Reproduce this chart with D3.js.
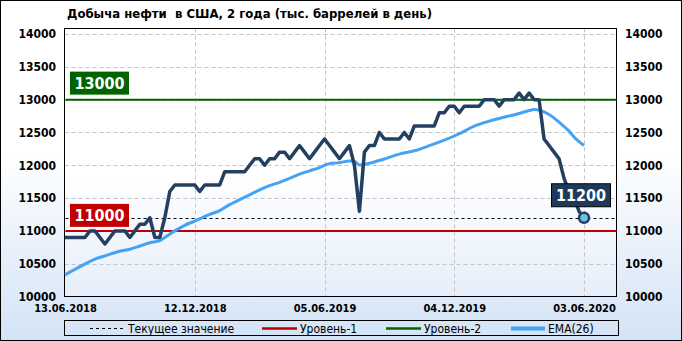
<!DOCTYPE html>
<html>
<head>
<meta charset="utf-8">
<script src="https://cdn.jsdelivr.net/npm/d3@7"></script>
<style>
  body { margin: 0; }
  svg { display: block; }
</style>
</head>
<body>
<svg id="chart"></svg>
<script>
// Weekly values (thousand barrels per day)
var production = [
  10900, 10900, 10900, 10900, 10900, 11000, 11000, 10900, 10800, 10900,
  11000, 11000, 11000, 10900, 11000, 11100, 11100, 11200, 10900, 10900,
  11200, 11600, 11700, 11700, 11700, 11700, 11700, 11600, 11700, 11700,
  11700, 11700, 11900, 11900, 11900, 11900, 11900, 12000, 12100, 12100,
  12000, 12100, 12100, 12200, 12200, 12100, 12200, 12300, 12200, 12100,
  12200, 12300, 12400, 12300, 12200, 12100, 12200, 12300, 12000, 11300,
  12200, 12300, 12300, 12500, 12400, 12400, 12400, 12400, 12500, 12400,
  12600, 12600, 12600, 12600, 12600, 12800, 12800, 12900, 12900, 12800,
  12900, 12900, 12900, 12900, 13000, 13000, 13000, 12900, 13000, 13000,
  13000, 13100, 13000, 13100, 13000, 13000, 12400, 12300, 12200, 12100,
  11800, 11600, 11500, 11300, 11200
];

// EMA(26) line at these week indexes
var emaIndex = [0, 3, 6, 8, 11, 13, 15, 17, 19, 20, 22, 24, 26, 29, 31, 33, 35, 37, 39, 41, 43, 45, 47, 49, 51, 53, 55, 57, 58, 59, 61, 64, 67, 70, 73, 76, 79, 82, 85, 88, 91, 93, 94, 95, 97, 99, 101, 102, 104];
var emaValue = [10330, 10455, 10570, 10620, 10690, 10720, 10770, 10820, 10850, 10900, 11000, 11085, 11150, 11250, 11310, 11400, 11475, 11550, 11625, 11690, 11740, 11800, 11865, 11915, 11965, 12025, 12040, 12066, 12060, 12005, 12030, 12096, 12170, 12220, 12298, 12384, 12480, 12596, 12672, 12732, 12788, 12833, 12848, 12840, 12773, 12657, 12520, 12430, 12300];

var xTickIndex = [0, 26, 52, 78, 104];
var xTickLabels = ['13.06.2018', '12.12.2018', '05.06.2019', '04.12.2019', '03.06.2020'];
var yTicks = [10000, 10500, 11000, 11500, 12000, 12500, 13000, 13500, 14000];
var level1 = 11000;
var level2 = 13000;
var currentValue = 11200;
var legendLabels = ['Текущее значение', 'Уровень-1', 'Уровень-2', 'EMA(26)'];
var titleText = 'Добыча нефти  в США, 2 года (тыс. баррелей в день)';

var config = {
  width: 682,
  height: 341,
  plotLeft: 64.5,
  plotRight: 616.5,
  plotTop: 28.5,
  plotBottom: 296.5,
  lineColor: '#243f60',
  emaColor: '#44a3f5',
  redColor: '#c00000',
  greenColor: '#006400',
  gridColor: '#c4c4c4',
  fontBold: '"DejaVu Sans Condensed", "DejaVu Sans", sans-serif',
};

var svg = d3.select('#chart')
  .attr('width', config.width)
  .attr('height', config.height)
  .style('font-family', config.fontBold);

// gradients for the background and the plot area
var defs = svg.append('defs');
var bgGrad = defs.append('linearGradient').attr('id', 'bgGrad').attr('x1', 0).attr('y1', 0).attr('x2', 0).attr('y2', 1);
bgGrad.append('stop').attr('offset', '0%').attr('stop-color', '#ffffff');
bgGrad.append('stop').attr('offset', '45%').attr('stop-color', '#ffffff');
bgGrad.append('stop').attr('offset', '100%').attr('stop-color', '#d3e3f6');
var plotGrad = defs.append('linearGradient').attr('id', 'plotGrad').attr('x1', 0).attr('y1', 0).attr('x2', 0).attr('y2', 1);
plotGrad.append('stop').attr('offset', '0%').attr('stop-color', '#ffffff');
plotGrad.append('stop').attr('offset', '55%').attr('stop-color', '#ffffff');
plotGrad.append('stop').attr('offset', '100%').attr('stop-color', '#e5eefa');

svg.append('rect')
  .attr('x', 0.5).attr('y', 0.5)
  .attr('width', config.width - 1).attr('height', config.height - 1)
  .attr('fill', 'url(#bgGrad)')
  .attr('stroke', '#000');

svg.append('rect')
  .attr('x', config.plotLeft).attr('y', config.plotTop)
  .attr('width', config.plotRight - config.plotLeft)
  .attr('height', config.plotBottom - config.plotTop)
  .attr('fill', 'url(#plotGrad)');

// scales
var x = d3.scaleLinear().domain([0, 104]).range([65, 584]);
var y = d3.scaleLinear().domain([10000, 14000]).range([296.5, 34]);

// grid
svg.append('g').selectAll('line')
  .data(yTicks.slice(1))
  .enter().append('line')
  .attr('x1', config.plotLeft).attr('x2', config.plotRight)
  .attr('y1', function(d) { return Math.round(y(d)) + 0.5; })
  .attr('y2', function(d) { return Math.round(y(d)) + 0.5; })
  .attr('stroke', config.gridColor)
  .attr('stroke-dasharray', '4,3');
svg.append('g').selectAll('line')
  .data(xTickIndex.slice(1))
  .enter().append('line')
  .attr('x1', function(d) { return Math.round(x(d)) + 0.5; })
  .attr('x2', function(d) { return Math.round(x(d)) + 0.5; })
  .attr('y1', config.plotTop).attr('y2', config.plotBottom)
  .attr('stroke', config.gridColor)
  .attr('stroke-dasharray', '4,3');

// plot frame
svg.append('rect')
  .attr('x', config.plotLeft).attr('y', config.plotTop)
  .attr('width', config.plotRight - config.plotLeft)
  .attr('height', config.plotBottom - config.plotTop)
  .attr('fill', 'none')
  .attr('stroke', '#000');

// axes (labels only)
function styleAxis(g, size) {
  g.select('.domain').remove();
  g.selectAll('.tick line').remove();
  g.selectAll('text')
    .attr('fill', '#000')
    .style('font-size', size + 'px')
    .style('font-weight', 'bold')
    .style('font-family', config.fontBold);
}
svg.append('g')
  .attr('transform', 'translate(56,0)')
  .call(d3.axisLeft(y).tickValues(yTicks).tickFormat(d3.format('d')).tickSize(0).tickPadding(0))
  .call(styleAxis, 12);
svg.append('g')
  .attr('transform', 'translate(625,0)')
  .call(d3.axisRight(y).tickValues(yTicks).tickFormat(d3.format('d')).tickSize(0).tickPadding(0))
  .call(styleAxis, 12);
svg.append('g')
  .attr('transform', 'translate(0,304)')
  .call(d3.axisBottom(x).tickValues(xTickIndex).tickFormat(function(d, i) { return xTickLabels[i]; }).tickSize(0).tickPadding(0))
  .call(styleAxis, 11);

// level lines
svg.append('line')
  .attr('x1', config.plotLeft + 1).attr('x2', config.plotRight)
  .attr('y1', y(level2)).attr('y2', y(level2))
  .attr('stroke', config.greenColor).attr('stroke-width', 2);
svg.append('line')
  .attr('x1', config.plotLeft + 1).attr('x2', config.plotRight)
  .attr('y1', y(level1)).attr('y2', y(level1))
  .attr('stroke', config.redColor).attr('stroke-width', 2);
svg.append('line')
  .attr('x1', config.plotLeft + 1).attr('x2', config.plotRight)
  .attr('y1', Math.round(y(currentValue)) + 0.5).attr('y2', Math.round(y(currentValue)) + 0.5)
  .attr('stroke', '#000').attr('stroke-dasharray', '3,3');

// EMA line
var emaPoints = emaIndex.map(function(d, i) { return [d, emaValue[i]]; });
svg.append('path')
  .attr('d', d3.line()
    .x(function(d) { return x(d[0]); })
    .y(function(d) { return y(d[1]); })
    .curve(d3.curveMonotoneX)(emaPoints))
  .attr('fill', 'none')
  .attr('stroke', config.emaColor)
  .attr('stroke-width', 3);

// production line
svg.append('path')
  .attr('d', d3.line()
    .x(function(d, i) { return x(i); })
    .y(function(d) { return y(d); })(production))
  .attr('fill', 'none')
  .attr('stroke', config.lineColor)
  .attr('stroke-width', 3.5)
  .attr('stroke-linejoin', 'round');

// level labels
function valueBox(cx, bottom, fill, text, border) {
  var w = 59, h = 23;
  svg.append('rect')
    .attr('x', cx - w / 2).attr('y', bottom - h)
    .attr('width', w).attr('height', h)
    .attr('fill', fill)
    .attr('stroke', border || 'none');
  svg.append('text')
    .attr('x', cx).attr('y', bottom - h / 2)
    .attr('dy', '0.36em')
    .attr('text-anchor', 'middle')
    .attr('fill', '#fff')
    .style('font-size', '16px')
    .style('font-weight', 'bold')
    .text(text);
}
valueBox(99.5, y(level2) - 5, config.greenColor, d3.format('d')(level2));
valueBox(99.5, y(level1) - 4, config.redColor, d3.format('d')(level1));

var last = production.length - 1;
valueBox(x(last) - 3, y(production[last]) - 11, '#1c3a5e', d3.format('d')(production[last]), '#000');
svg.append('circle')
  .attr('cx', x(last)).attr('cy', y(production[last]))
  .attr('r', 5)
  .attr('fill', '#6cc3e0')
  .attr('stroke', config.lineColor)
  .attr('stroke-width', 2.5);

// title
svg.append('text')
  .attr('x', 67).attr('y', 18)
  .style('font-size', '13px')
  .style('font-weight', 'bold')
  .style('white-space', 'pre')
  .text(titleText);

// legend
var legend = svg.append('g');
legend.append('rect')
  .attr('x', 64.5).attr('y', 320.5)
  .attr('width', 554).attr('height', 15)
  .attr('fill', 'none')
  .attr('stroke', '#000');
var legendItems = [
  { x1: 90, x2: 123, tx: 128, color: '#000', width: 1, dash: '3,3' },
  { x1: 262, x2: 297, tx: 300, color: config.redColor, width: 2.5, dash: null },
  { x1: 386, x2: 421, tx: 424, color: config.greenColor, width: 2.5, dash: null },
  { x1: 511, x2: 545, tx: 548, color: config.emaColor, width: 4, dash: null },
];
legendItems.forEach(function(item, i) {
  legend.append('line')
    .attr('x1', item.x1).attr('x2', item.x2)
    .attr('y1', 328.5).attr('y2', 328.5)
    .attr('stroke', item.color)
    .attr('stroke-width', item.width)
    .attr('stroke-dasharray', item.dash);
  legend.append('text')
    .attr('x', item.tx).attr('y', 328.5)
    .attr('dy', '0.35em')
    .style('font-size', '12px')
    .text(legendLabels[i]);
});
</script>
</body>
</html>
